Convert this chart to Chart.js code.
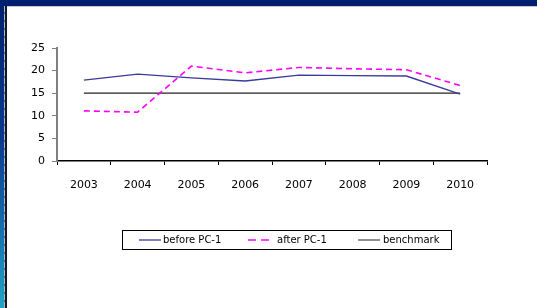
<!DOCTYPE html>
<html><head><meta charset="utf-8">
<script src="https://cdn.jsdelivr.net/npm/chart.js@4/dist/chart.umd.min.js"></script>
<style>
html,body{margin:0;padding:0;width:537px;height:308px;overflow:hidden;background:#fff;}
#top{position:absolute;left:0;top:0;width:537px;height:6px;background:#00206f;}
#topline{position:absolute;left:5px;top:6px;width:532px;height:1px;background:#c8c8c8;}
#left{position:absolute;left:0;top:0;width:4px;height:308px;background:linear-gradient(#00206f 0%,#0a3a8f 45%,#1670b0 75%,#22a4c4 100%);}
#ldot{position:absolute;left:4px;top:6px;width:1px;height:302px;background:repeating-linear-gradient(#b0b8c8 0 6px,#5070a0 6px 8px);}
#lblack{position:absolute;left:5px;top:6px;width:2px;height:302px;background:#101828;}
canvas{position:absolute;left:0;top:0;}
</style></head>
<body>
<div id="top"></div><div id="topline"></div><div id="left"></div><div id="ldot"></div><div id="lblack"></div>
<canvas id="c" width="537" height="308"></canvas>
<script>
const categories = ['2003','2004','2005','2006','2007','2008','2009','2010'];
const beforePC1 = [17.9, 19.2, 18.4, 17.7, 19.0, 18.9, 18.8, 14.8];
const afterPC1  = [11.1, 10.8, 21.0, 19.5, 20.7, 20.4, 20.2, 16.7];
const benchmark = [15, 15, 15, 15, 15, 15, 15, 15];
const yTicks = [0, 5, 10, 15, 20, 25];

const FONT = {family: '"DejaVu Sans", Verdana, sans-serif', size: 11};

const legendBox = {
  id: 'legendBox',
  afterDraw(chart) {
    const ctx = chart.ctx;
    ctx.save();
    ctx.strokeStyle = '#000';
    ctx.lineWidth = 1;
    ctx.setLineDash([]);
    ctx.strokeRect(122.5, 230.5, 329, 19);
    const items = [
      {x: 139, w: 22, tx: 163},
      {x: 248, w: 22, tx: 277, dash: [8, 5]},
      {x: 358, w: 22, tx: 383}
    ];
    ctx.font = '10px "DejaVu Sans", sans-serif';
    ctx.textBaseline = 'middle';
    chart.data.datasets.forEach((ds, i) => {
      const it = items[i];
      ctx.beginPath();
      ctx.strokeStyle = ds.borderColor;
      ctx.lineWidth = ds.legendWidth || 1;
      ctx.setLineDash(it.dash || []);
      ctx.moveTo(it.x, 240);
      ctx.lineTo(it.x + it.w, 240);
      ctx.stroke();
      ctx.setLineDash([]);
      ctx.fillStyle = '#000';
      ctx.fillText(ds.label, it.tx, 240);
    });
    ctx.restore();
  }
};

new Chart(document.getElementById('c'), {
  type: 'line',
  data: {
    labels: categories,
    datasets: [
      {label: 'before PC-1', data: beforePC1, borderColor: '#3a3a9c', borderWidth: 1.3, pointRadius: 0, tension: 0, fill: false, legendWidth: 1.3},
      {label: 'after PC-1', data: afterPC1, borderColor: '#ff00ff', borderWidth: 1.6, borderDash: [6, 4], pointRadius: 0, tension: 0, fill: false, legendWidth: 1.6},
      {label: 'benchmark', data: benchmark, borderColor: '#222222', borderWidth: 1.2, pointRadius: 0, tension: 0, fill: false, legendWidth: 1}
    ]
  },
  options: {
    responsive: false,
    animation: false,
    layout: {padding: {left: 17, right: 50, top: 48, bottom: 107}},
    plugins: {legend: {display: false}, tooltip: {enabled: false}},
    scales: {
      x: {
        offset: true,
        afterFit(s) { s.height = 40; },
        grid: {offset: true, drawOnChartArea: false, drawTicks: true, tickLength: 4, color: '#000'},
        border: {display: true, color: '#000', width: 1.5},
        ticks: {font: FONT, color: '#000', padding: 14, maxRotation: 0}
      },
      y: {
        min: 0, max: 25,
        afterFit(s) { s.width = 40; },
        afterBuildTicks(s) { s.ticks = yTicks.map(v => ({value: v})); },
        grid: {drawOnChartArea: false, drawTicks: true, tickLength: 5, color: '#808080'},
        border: {display: true, color: '#808080', width: 2},
        ticks: {font: FONT, color: '#000', padding: 7}
      }
    }
  },
  plugins: [legendBox]
});
</script>
</body></html>
